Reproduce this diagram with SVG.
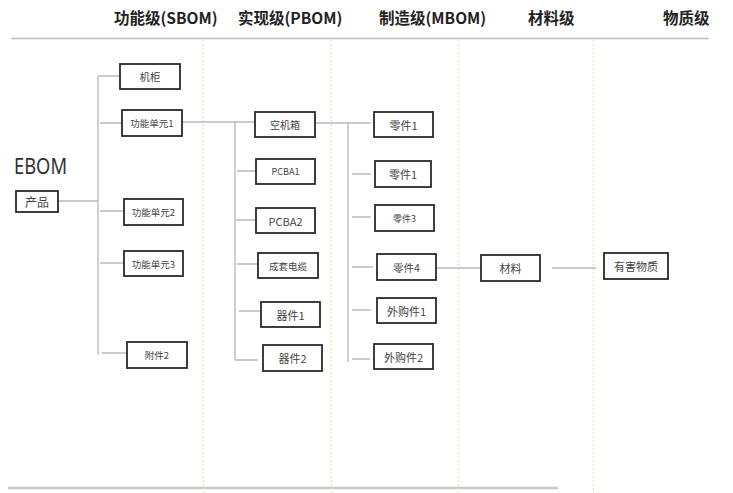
<svg xmlns="http://www.w3.org/2000/svg" width="733" height="493" viewBox="0 0 733 493">
<style>
.hd{font-family:"Noto Sans CJK SC","Noto Sans",sans-serif;font-weight:bold;font-size:15.5px;fill:#222}
.bx{fill:#fff;stroke:#2a2a2a;stroke-width:1.8}
.lb{font-family:"Noto Sans CJK SC","Noto Sans",sans-serif;fill:#444;text-anchor:middle;dominant-baseline:central}
.cn{stroke:#b8bcbf;stroke-width:1.4;fill:none}
.sep{stroke:#e6eac6;stroke-width:1.6;stroke-dasharray:2 2;fill:none}
</style>
<rect width="733" height="493" fill="#fff"/>
<g id="headers">
<text class="hd" x="114" y="24">功能级(SBOM)</text>
<text class="hd" x="238" y="24">实现级(PBOM)</text>
<text class="hd" x="379" y="24">制造级(MBOM)</text>
<text class="hd" x="528" y="24">材料级</text>
<text class="hd" x="663" y="24">物质级</text>
</g>
<g id="frame">
<line x1="11" y1="38.5" x2="709" y2="38.5" stroke="#bdbdbd" stroke-width="1.5"/>
<line x1="8" y1="488" x2="558" y2="488" stroke="#c8c8c8" stroke-width="2.5"/>
<line class="sep" x1="203.5" y1="40" x2="203.5" y2="493"/>
<line class="sep" x1="331.5" y1="40" x2="331.5" y2="493"/>
<line class="sep" x1="458.5" y1="40" x2="458.5" y2="493"/>
<line class="sep" x1="593.5" y1="40" x2="593.5" y2="493"/>
<text x="14" y="174" font-family="Noto Sans,sans-serif" font-size="21" fill="#333" textLength="53" lengthAdjust="spacingAndGlyphs">EBOM</text>
</g>
<g id="connectors">
<path class="cn" d="M58 201H98M98 76V355M98 76H120M100 123H122M100 211H124M100 263H124M102 353H127"/>
<path class="cn" d="M182 122H255M235 121V360M237 171H256M236 220H256M237 264H258M239 311H261M235 360H258"/>
<path class="cn" d="M315 123H371M348 123V362M352 174H371M352 217H371M352 267H373M352 310H371M352 359H370"/>
<path class="cn" d="M436 268H481M552 268H596"/>
</g>
<g id="n-chanpin"><rect class="bx" x="16" y="191" width="42" height="21"/><text class="lb" x="37" y="201.5" font-size="12">产品</text></g>
<g id="n-jigui"><rect class="bx" x="120" y="64" width="60" height="25"/><text class="lb" x="150" y="76.5" font-size="10.5">机柜</text></g>
<g id="n-gn1"><rect class="bx" x="122" y="110" width="60" height="26"/><text class="lb" x="152" y="123" font-size="9.5">功能单元1</text></g>
<g id="n-gn2"><rect class="bx" x="124" y="199" width="59" height="26"/><text class="lb" x="153.5" y="212" font-size="9.5">功能单元2</text></g>
<g id="n-gn3"><rect class="bx" x="124" y="251" width="59" height="25"/><text class="lb" x="153.5" y="263.5" font-size="9.5">功能单元3</text></g>
<g id="n-fj2"><rect class="bx" x="127" y="342" width="60" height="26"/><text class="lb" x="157" y="355" font-size="9.5">附件2</text></g>
<g id="n-kjx"><rect class="bx" x="255" y="112" width="60" height="25"/><text class="lb" x="285" y="124.5" font-size="10">空机箱</text></g>
<g id="n-pcba1"><rect class="bx" x="256" y="159" width="59" height="25"/><text class="lb" x="285.5" y="171.5" font-size="9">PCBA1</text></g>
<g id="n-pcba2"><rect class="bx" x="256" y="208" width="59" height="25"/><text class="lb" x="285.5" y="220.5" font-size="11">PCBA2</text></g>
<g id="n-cable"><rect class="bx" x="258" y="253" width="60" height="25"/><text class="lb" x="288" y="265.5" font-size="9.5">成套电缆</text></g>
<g id="n-qj1"><rect class="bx" x="261" y="302" width="59" height="25"/><text class="lb" x="290.5" y="314.5" font-size="11">器件1</text></g>
<g id="n-qj2"><rect class="bx" x="263" y="345" width="59" height="26"/><text class="lb" x="292.5" y="358" font-size="11">器件2</text></g>
<g id="n-lj1a"><rect class="bx" x="374" y="112" width="59" height="25"/><text class="lb" x="403.5" y="124.5" font-size="11">零件1</text></g>
<g id="n-lj1b"><rect class="bx" x="375" y="161" width="56" height="26"/><text class="lb" x="403" y="174" font-size="11">零件1</text></g>
<g id="n-lj3"><rect class="bx" x="375" y="205" width="59" height="26"/><text class="lb" x="404.5" y="218" font-size="9">零件3</text></g>
<g id="n-lj4"><rect class="bx" x="377" y="254" width="59" height="26"/><text class="lb" x="406.5" y="267" font-size="10.5">零件4</text></g>
<g id="n-wg1"><rect class="bx" x="377" y="298" width="59" height="25"/><text class="lb" x="406.5" y="310.5" font-size="11">外购件1</text></g>
<g id="n-wg2"><rect class="bx" x="374" y="344" width="59" height="25"/><text class="lb" x="403.5" y="356.5" font-size="11">外购件2</text></g>
<g id="n-cailiao"><rect class="bx" x="481" y="255" width="59" height="26"/><text class="lb" x="510.5" y="268" font-size="11">材料</text></g>
<g id="n-youhai"><rect class="bx" x="604" y="253" width="64" height="26"/><text class="lb" x="636" y="266" font-size="11">有害物质</text></g>
</svg>
